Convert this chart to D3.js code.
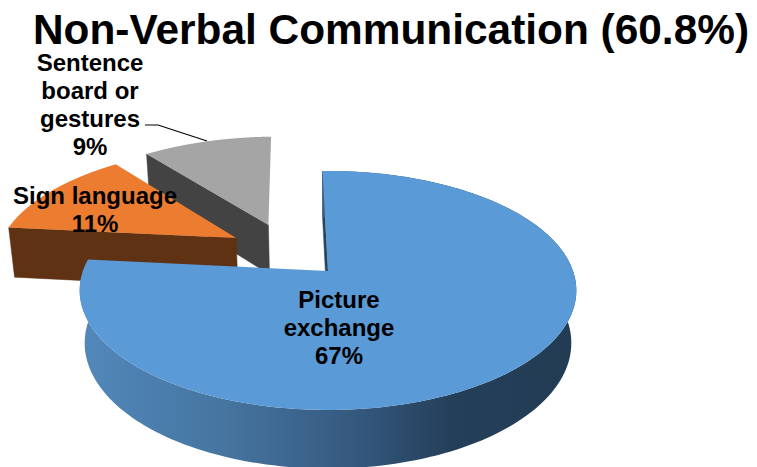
<!DOCTYPE html>
<html>
<head>
<meta charset="utf-8">
<script src="https://cdn.jsdelivr.net/npm/d3@7"></script>
<style>
  body { margin: 0; background: #fff; }
  text { font-family: "Liberation Sans", Arial, sans-serif; font-weight: bold; fill: #000; text-anchor: middle; }
</style>
</head>
<body>
<div id="chart-area"></div>
<script>
// Chart data
let categories = ["Picture exchange", "Sign language", "Sentence board or gestures"];
let percents = [67, 11, 9];
let titleText = "Non-Verbal Communication (60.8%)";

// Label lines, in the same order as the categories
let labelLines = [["Picture", "exchange"], ["Sign language"], ["Sentence", "board or", "gestures"]];

let width = 757, height = 467;

// Pie geometry, the pie is a tilted disc seen in perspective
let cx = 328, cy = 271;
let radiusX = 245, radiusY = 116.3, depth = 53;
let persp = 0.163, perspDepth = 0.02;
let firstSliceDeg = -1.5;

// Colours per slice
let topColors = ["#5a9ad6", "#ec7c30", "#a5a5a5"];
let wallColors = ["#264560", "#5f3214", "#434343"];

// How far each slice is pulled out, in disc units
let explode = [[0, 0], [-0.393, -0.298], [-0.26, -0.423]];

// Label anchors: x and first baseline
let labelPos = [[339, 308], [95, 204], [90, 70.5]];
let lineGap = 28.2;

// Project a disc point (u, v) at depth z (0 top, 1 bottom) to the page
function project(u, v, z) {
  let w = 1 - persp * v + perspDepth * z;
  return [cx + radiusX * u / w, cy + (radiusY * v + depth * z) / w];
}

function rimPoint(angle, off, z) {
  return project(off[0] + Math.sin(angle), off[1] - Math.cos(angle), z);
}

function arcAngles(a0, a1) {
  return d3.range(0, 181).map(i => a0 + (a1 - a0) * i / 180);
}

let pie = d3.pie()
  .sort(null)
  .startAngle(firstSliceDeg * Math.PI / 180)
  .endAngle(firstSliceDeg * Math.PI / 180 + 2 * Math.PI);

let slices = pie(percents);
let line = d3.line();

let svg = d3.select("#chart-area")
  .append("svg")
  .attr("width", width)
  .attr("height", height)
  .style("display", "block");

// Rim shading of the big slice
let gradient = svg.append("defs")
  .append("linearGradient")
  .attr("id", "rim")
  .attr("gradientUnits", "userSpaceOnUse")
  .attr("x1", 80).attr("x2", 577)
  .attr("y1", 0).attr("y2", 0);

gradient.selectAll("stop")
  .data([[0, "#5288bb"], [0.3, "#45749f"], [0.55, "#35597f"], [0.75, "#243f58"], [1, "#223c54"]])
  .enter()
  .append("stop")
  .attr("offset", d => d[0])
  .attr("stop-color", d => d[1]);

// Back to front: grey, orange, blue
[2, 1, 0].forEach(i => {
  let d = slices[i];
  let off = explode[i];
  let angles = arcAngles(d.startAngle, d.endAngle);
  let g = svg.append("g").attr("class", "slice");
  let apexTop = project(off[0], off[1], 0);
  let apexBottom = project(off[0], off[1], 1);

  // radial wall, only the one at the start angle ever shows
  g.append("path")
    .attr("d", line([apexTop, rimPoint(d.startAngle, off, 0), rimPoint(d.startAngle, off, 1), apexBottom]) + "Z")
    .attr("fill", wallColors[i])
    .attr("stroke", wallColors[i])
    .attr("stroke-width", 0.5);

  // outer wall
  let outer = angles.map(a => rimPoint(a, off, 0))
    .concat(angles.slice().reverse().map(a => rimPoint(a, off, 1)));
  g.append("path")
    .attr("d", line(outer) + "Z")
    .attr("fill", i == 0 ? "url(#rim)" : "none");

  // top face
  let face = [apexTop].concat(angles.map(a => rimPoint(a, off, 0)));
  g.append("path")
    .attr("d", line(face) + "Z")
    .attr("fill", topColors[i]);
});

// Leader line for the small slice
svg.append("path")
  .attr("d", line([[145, 125], [158, 125], [207, 141]]))
  .attr("fill", "none")
  .attr("stroke", "#000")
  .attr("stroke-width", 1.2);

// Title
svg.append("text")
  .attr("x", 391)
  .attr("y", 44)
  .style("font-size", "42.4px")
  .text(titleText);

// Slice labels
categories.forEach((c, i) => {
  let lines = labelLines[i].concat([percents[i] + "%"]);
  svg.append("text")
    .attr("class", "label")
    .selectAll("tspan")
    .data(lines)
    .enter()
    .append("tspan")
    .attr("x", labelPos[i][0])
    .attr("y", (t, j) => labelPos[i][1] + j * lineGap)
    .style("font-size", "24px")
    .text(t => t);
});
</script>
</body>
</html>
